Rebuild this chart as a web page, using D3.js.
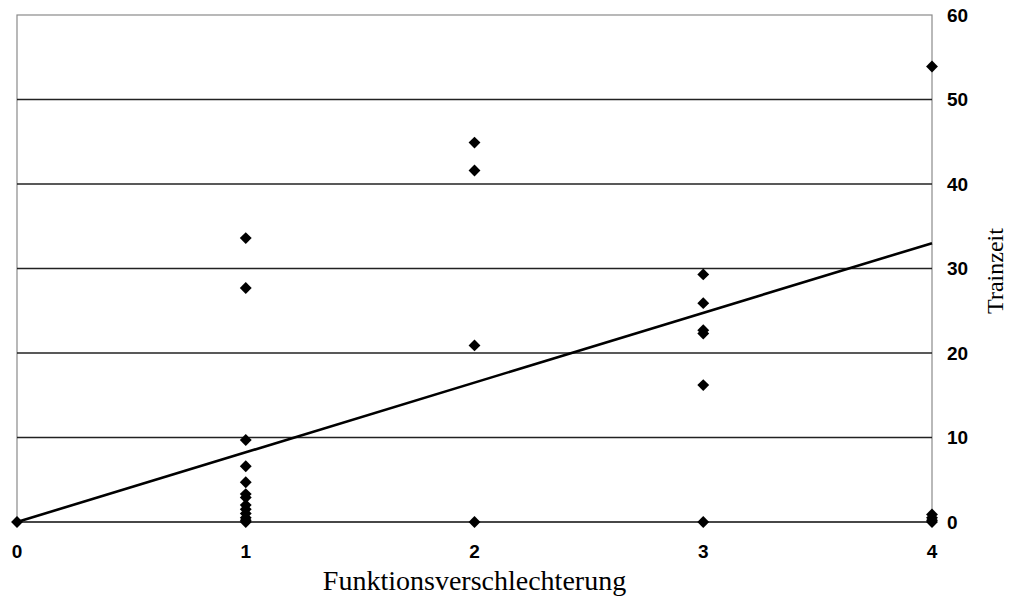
<!DOCTYPE html>
<html>
<head>
<meta charset="utf-8">
<script src="https://cdn.jsdelivr.net/npm/d3@7"></script>
<style>
  body { margin: 0; background: #fff; }
  .tick-label { font-family: Arial, "Liberation Sans", sans-serif; font-weight: bold; font-size: 19px; }
  .axis-title { font-family: "Times New Roman", "Liberation Serif", serif; }
</style>
</head>
<body>
<div id="chart"></div>
<script>
// data
const xValues = [0,
  1, 1, 1, 1, 1, 1, 1, 1, 1, 1, 1, 1, 1,
  2, 2, 2, 2,
  3, 3, 3, 3, 3, 3,
  4, 4, 4, 4, 4];
const yValues = [0,
  33.6, 27.7, 9.7, 6.6, 4.7, 3.3, 2.9, 2.0, 1.5, 1.0, 0.5, 0.2, 0,
  44.9, 41.6, 20.9, 0,
  29.3, 25.9, 22.7, 22.3, 16.2, 0,
  53.9, 0.9, 0.5, 0.2, 0];
const trendX = [0, 4];
const trendY = [0, 33.0];
const xTicks = [0, 1, 2, 3, 4];
const yTicks = [0, 10, 20, 30, 40, 50, 60];

const width = 1013, height = 598;
const margin = { top: 15, right: 81, bottom: 76, left: 17 };

const svg = d3.select("#chart").append("svg")
  .attr("width", width)
  .attr("height", height);

const xScale = d3.scaleLinear().domain([0, 4]).range([margin.left, width - margin.right]);
const yScale = d3.scaleLinear().domain([0, 60]).range([height - margin.bottom, margin.top]);

// plot border
svg.append("rect")
  .attr("x", xScale(0)).attr("y", yScale(60))
  .attr("width", xScale(4) - xScale(0))
  .attr("height", yScale(0) - yScale(60))
  .attr("fill", "none")
  .attr("stroke", "#8a8a8a")
  .attr("stroke-width", 1.2);

// gridlines
svg.append("g")
  .selectAll("line")
  .data(yTicks.filter(d => d < 60))
  .join("line")
  .attr("x1", xScale(0)).attr("x2", xScale(4))
  .attr("y1", d => yScale(d)).attr("y2", d => yScale(d))
  .attr("stroke", "#222")
  .attr("stroke-width", 1.3);

// y tick labels (right side)
svg.append("g")
  .selectAll("text")
  .data(yTicks)
  .join("text")
  .attr("class", "tick-label")
  .attr("x", xScale(4) + 15)
  .attr("y", d => yScale(d))
  .attr("dy", "0.36em")
  .text(d => d);

// x tick labels
svg.append("g")
  .selectAll("text")
  .data(xTicks)
  .join("text")
  .attr("class", "tick-label")
  .attr("x", d => xScale(d))
  .attr("y", yScale(0) + 36)
  .attr("text-anchor", "middle")
  .text(d => d);

// trend line
svg.append("line")
  .attr("x1", xScale(trendX[0])).attr("y1", yScale(trendY[0]))
  .attr("x2", xScale(trendX[1])).attr("y2", yScale(trendY[1]))
  .attr("stroke", "#000")
  .attr("stroke-width", 2.6);

// points
const diamond = d3.symbol().type(d3.symbolDiamond2 || d3.symbolDiamond).size(90);
svg.append("g")
  .selectAll("path")
  .data(xValues.map((x, i) => ({ x, y: yValues[i] })))
  .join("path")
  .attr("d", diamond)
  .attr("transform", d => `translate(${xScale(d.x)},${yScale(d.y)})`)
  .attr("fill", "#000");

// axis titles
svg.append("text")
  .attr("class", "axis-title")
  .attr("x", (xScale(0) + xScale(4)) / 2)
  .attr("y", 590)
  .attr("font-size", 28)
  .attr("text-anchor", "middle")
  .text("Funktionsverschlechterung");

svg.append("text")
  .attr("class", "axis-title")
  .attr("font-size", 24)
  .attr("transform", `translate(1003,271) rotate(-90)`)
  .attr("text-anchor", "middle")
  .text("Trainzeit");
</script>
</body>
</html>
